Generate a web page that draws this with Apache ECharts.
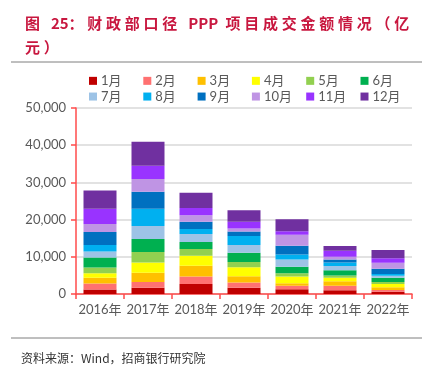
<!DOCTYPE html>
<html>
<head>
<meta charset="utf-8">
<script src="https://cdn.jsdelivr.net/npm/echarts@6/dist/echarts.min.js"></script>
<style>
  html, body { margin: 0; padding: 0; background: #fff; }
  #chart { width: 432px; height: 375px; }
</style>
</head>
<body>
<div id="chart"></div>
<script>
const years = ["2016年", "2017年", "2018年", "2019年", "2020年", "2021年", "2022年"];
const months = ["1月", "2月", "3月", "4月", "5月", "6月", "7月", "8月", "9月", "10月", "11月", "12月"];
const monthColors = ["#C00000", "#FF7171", "#FFC000", "#FFFF00", "#92D050", "#00B050",
  "#9DC3E6", "#00B0F0", "#0070C0", "#BF94E4", "#9933FF", "#7030A0"];

// 亿元, per month, one entry per year
const m1 = [1200, 1700, 2700, 1700, 1300, 1000, 600];
const m2 = [1600, 1500, 2000, 1400, 900, 1200, 500];
const m3 = [1600, 2500, 2900, 1700, 700, 1200, 700];
const m4 = [1200, 2800, 2700, 2400, 1800, 1000, 900];
const m5 = [1500, 2800, 1800, 1400, 900, 600, 500];
const m6 = [2700, 3500, 1900, 2500, 1700, 1400, 1200];
const m7 = [1600, 3500, 2100, 2100, 2000, 1100, 500];
const m8 = [1800, 4600, 1400, 2400, 1300, 1000, 500];
const m9 = [3500, 4600, 1900, 1200, 2400, 800, 1400];
const m10 = [2100, 3400, 1800, 800, 2900, 700, 1600];
const m11 = [4100, 3600, 1900, 1800, 1000, 1600, 1200];
const m12 = [4900, 6400, 4100, 3100, 3200, 1300, 2200];
const monthData = [m1, m2, m3, m4, m5, m6, m7, m8, m9, m10, m11, m12];

const yTicks = [0, 10000, 20000, 30000, 40000, 50000];

const titleText = "图 25：财政部口径 PPP 项目成交金额情况（亿\n元）";
const sourceText = "资料来源：Wind，招商银行研究院";

const AXIS_RED = "#FF4B4B";
const LABEL = "#595959";
const FONT = 'Lato, "Noto Sans CJK SC", sans-serif';

// widen the gap after each CJK character / space, keep latin runs tight
const spaced = (s) => s.split("\n").map((l) =>
  Array.from(l).map((c, i, a) => (i < a.length - 1 && /[^\x00-\x1f\x21-\x7f]/.test(c) ? c + "\u2005" : c)).join("")
).join("\n");

const chart = echarts.init(document.getElementById("chart"), null, { renderer: "canvas" });

const legends = [];
for (let i = 0; i < 6; i++) {
  legends.push({
    orient: "vertical",
    left: 89 + i * 54.3,
    top: 74,
    itemWidth: 8,
    itemHeight: 8,
    itemGap: 2,
    icon: "rect",
    padding: 0,
    data: [months[i], months[i + 6]],
    selectedMode: false,
    textStyle: { color: LABEL, fontSize: 13, fontFamily: FONT, lineHeight: 13.7, padding: [0, 0, 0, -1] },
  });
}

chart.setOption({
  animation: false,
  color: monthColors,
  title: {
    text: spaced(titleText),
    left: 20,
    top: 6,
    textStyle: { color: "#C8173F", fontSize: 15, fontWeight: "bold", fontFamily: '"Noto Sans CJK SC", sans-serif', lineHeight: 24 },
  },
  legend: legends,
  grid: { left: 76, right: 20, top: 108, bottom: 81 },
  xAxis: {
    type: "category",
    data: years,
    axisLine: { lineStyle: { color: AXIS_RED, width: 1.5 } },
    axisTick: { show: true, alignWithLabel: false, length: 5, lineStyle: { color: AXIS_RED, width: 1.5 } },
    axisLabel: { color: LABEL, fontSize: 13, fontFamily: FONT, margin: 9, interval: 0 },
  },
  yAxis: {
    type: "value",
    min: yTicks[0],
    max: yTicks[yTicks.length - 1],
    interval: yTicks[1] - yTicks[0],
    axisLine: { show: true, lineStyle: { color: AXIS_RED, width: 1.5 } },
    axisTick: { show: true, length: 5, lineStyle: { color: AXIS_RED, width: 1.5 } },
    axisLabel: {
      color: LABEL, fontSize: 13, fontFamily: FONT, margin: 10,
      formatter: (v) => String(v).replace(/\B(?=(\d{3})+(?!\d))/g, ","),
    },
    splitLine: { lineStyle: { color: "#D9D9D9", width: 1.5 } },
  },
  series: months.map((m, i) => ({
    name: m,
    type: "bar",
    stack: "total",
    barWidth: 33,
    data: monthData[i],
    itemStyle: { color: monthColors[i] },
  })),
  graphic: [
    { type: "line", shape: { x1: 11, y1: 62, x2: 422, y2: 62 }, style: { stroke: "#7F7F7F", lineWidth: 1 } },
    { type: "line", shape: { x1: 11, y1: 338, x2: 422, y2: 338 }, style: { stroke: "#7F7F7F", lineWidth: 1 } },
    {
      type: "text", left: 21, top: 352,
      style: { text: sourceText, fill: "#333", font: '12px "Noto Sans CJK SC", sans-serif' },
    },
  ],
});
</script>
</body>
</html>
